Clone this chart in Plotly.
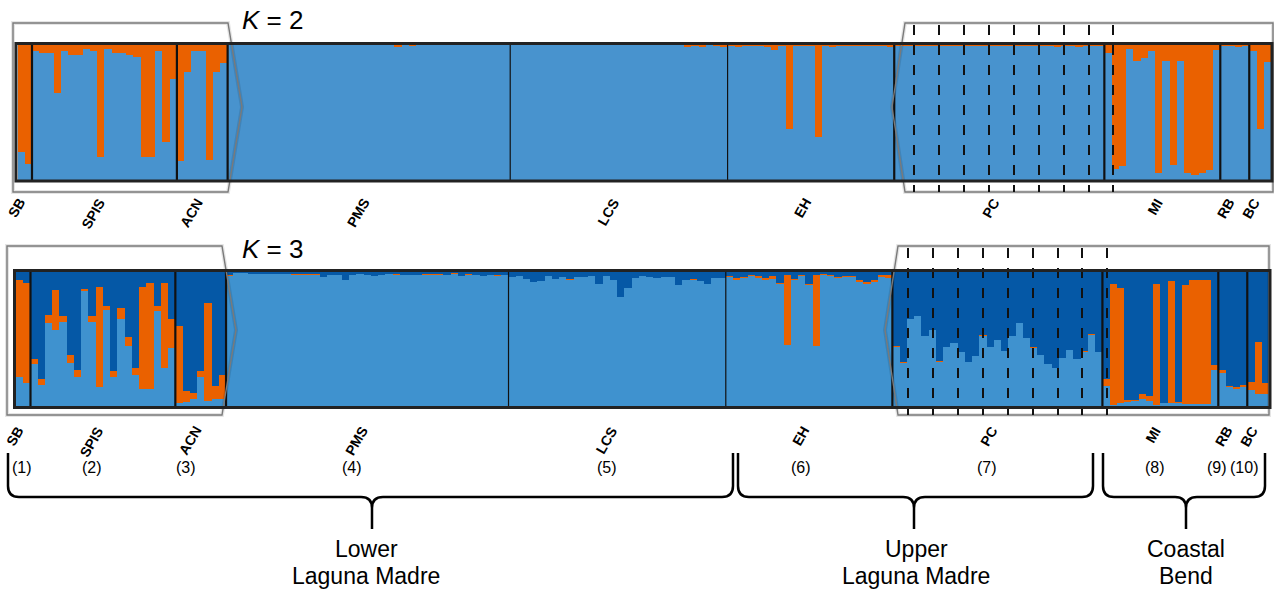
import plotly.graph_objects as go

W, H = 1274, 591

# ---------------- data ----------------
POPS = ["SB", "SPIS", "ACN", "PMS", "LCS", "EH", "PC", "MI", "RB", "BC"]
POP_NUMS = ["(1)", "(2)", "(3)", "(4)", "(5)", "(6)", "(7)", "(8)", "(9)", "(10)"]
POP_SIZES = [2, 20, 7, 39, 30, 23, 29, 16, 4, 3]
REGIONS = [["Lower", "Laguna Madre"], ["Upper", "Laguna Madre"], ["Coastal", "Bend"]]

# K = 2 : membership in cluster 1 (blue); remainder is cluster 2 (orange)
K2_SB = [0.21, 0.12]
K2_SPIS = [0.95, 0.94, 0.94, 0.64, 0.955, 0.925, 0.925, 0.97, 0.95, 0.17,
           0.97, 0.94, 0.94, 0.925, 0.91, 0.17, 0.17, 0.955, 0.28, 0.745]
K2_ACN = [0.14, 0.795, 0.95, 0.955, 0.15, 0.795, 0.865]
K2_PMS = [0.995, 0.997, 0.996, 0.995, 0.997, 0.996, 0.995, 0.996, 0.997, 0.995,
          0.996, 0.994, 0.995, 0.996, 0.997, 0.996, 0.995, 0.996, 0.997, 0.995,
          0.996, 0.997, 0.996, 0.985, 0.997, 0.99, 0.996, 0.995, 0.997, 0.996,
          0.995, 0.996, 0.997, 0.995, 0.996, 0.995, 0.997, 0.996, 0.995]
K2_LCS = [0.996, 0.997, 0.995, 0.996, 0.997, 0.995, 0.996, 0.997, 0.995, 0.996,
          0.997, 0.996, 0.995, 0.996, 0.997, 0.995, 0.996, 0.997, 0.996, 0.995,
          0.996, 0.997, 0.995, 0.996, 0.985, 0.99, 0.985, 0.995, 0.99, 0.985]
K2_EH = [0.99, 0.985, 0.99, 0.992, 0.988, 0.985, 0.96, 0.99, 0.375, 0.99,
         0.992, 0.99, 0.316, 0.99, 0.985, 0.988, 0.99, 0.99, 0.988, 0.988,
         0.988, 0.99, 0.985]
K2_PC = [0.99, 0.992, 0.99, 0.988, 0.99, 0.992, 0.99, 0.99, 0.988, 0.99,
         0.992, 0.99, 0.988, 0.99, 0.99, 0.992, 0.99, 0.99, 0.988, 0.99,
         0.992, 0.99, 0.985, 0.99, 0.988, 0.985, 0.99, 0.99, 0.992]
K2_MI = [0.94, 0.08, 0.10, 0.97, 0.88, 0.90, 0.955, 0.05, 0.88, 0.11,
         0.88, 0.05, 0.04, 0.055, 0.075, 0.96]
K2_RB = [0.99, 0.99, 0.985, 0.99]
K2_BC = [0.95, 0.375, 0.87]

# K = 3 : cluster 1 (light blue) and cluster 2 (orange); remainder is cluster 3 (dark blue)
K3_LB_SB = [0.22, 0.17]
K3_OR_SB = [0.72, 0.75]
K3_LB_SPIS = [0.31, 0.16, 0.62, 0.565, 0.63, 0.32, 0.22, 0.855, 0.63, 0.14,
              0.72, 0.22, 0.65, 0.45, 0.23, 0.13, 0.13, 0.71, 0.28, 0.43]
K3_OR_SPIS = [0.04, 0.04, 0.06, 0.30, 0.04, 0.06, 0.05, 0.02, 0.04, 0.75,
              0.03, 0.04, 0.08, 0.065, 0.05, 0.76, 0.79, 0.04, 0.635, 0.22]
K3_LB_ACN = [0.025, 0.03, 0.055, 0.22, 0.04, 0.055, 0.05]
K3_OR_ACN = [0.57, 0.08, 0.04, 0.04, 0.73, 0.095, 0.18]
K3_LB_PMS = [0.972, 0.993, 0.993, 0.985, 0.985, 0.985, 0.985, 0.985, 0.985, 0.98,
             0.979, 0.978, 0.98, 0.96, 0.98, 0.98, 0.943, 0.98, 0.988, 0.98,
             0.973, 0.98, 0.985, 0.98, 0.975, 0.98, 0.98, 0.98, 0.98, 0.98,
             0.98, 0.987, 0.973, 0.98, 0.98, 0.973, 0.98, 0.967, 0.98]
K3_OR_PMS = [0.008, 0, 0, 0, 0, 0, 0, 0, 0, 0.008,
             0.009, 0.009, 0.008, 0, 0, 0, 0, 0, 0, 0,
             0, 0, 0, 0.008, 0, 0, 0, 0.008, 0.008, 0.008,
             0, 0.005, 0, 0.008, 0, 0, 0, 0.008, 0]
K3_LB_LCS = [0.963, 0.968, 0.95, 0.923, 0.93, 0.968, 0.95, 0.963, 0.938, 0.963,
             0.963, 0.968, 0.914, 0.968, 0.943, 0.815, 0.88, 0.955, 0.968, 0.963,
             0.955, 0.963, 0.963, 0.9, 0.938, 0.942, 0.93, 0.914, 0.955, 0.955]
K3_OR_LCS = [0, 0, 0, 0, 0, 0, 0, 0, 0.012, 0,
             0, 0, 0, 0, 0, 0, 0, 0, 0, 0,
             0, 0, 0, 0, 0, 0.008, 0, 0, 0, 0]
K3_LB_EH = [0.963, 0.938, 0.958, 0.971, 0.958, 0.941, 0.95, 0.908, 0.455, 0.938,
            0.971, 0.901, 0.445, 0.976, 0.971, 0.958, 0.965, 0.965, 0.926, 0.908,
            0.926, 0.965, 0.958]
K3_OR_EH = [0.007, 0.02, 0.007, 0.007, 0.012, 0.017, 0.02, 0.007, 0.52, 0.007,
            0.007, 0.007, 0.53, 0.007, 0.007, 0.007, 0.005, 0.005, 0.012, 0.017,
            0.012, 0.01, 0.017]
K3_LB_PC = [0.44, 0.32, 0.65, 0.67, 0.52, 0.57, 0.33, 0.44, 0.47, 0.40,
            0.33, 0.37, 0.52, 0.44, 0.49, 0.41, 0.52, 0.62, 0.51, 0.43,
            0.38, 0.31, 0.28, 0.36, 0.42, 0.35, 0.40, 0.53, 0.40]
K3_OR_PC = [0.005, 0.007, 0, 0, 0.005, 0, 0.007, 0, 0, 0,
            0, 0.005, 0.007, 0, 0, 0, 0, 0, 0, 0.007,
            0, 0, 0, 0, 0, 0, 0.007, 0.01, 0.005]
K3_LB_MI = [0.15, 0.01, 0.02, 0.03, 0.035, 0.05, 0.035, 0.01, 0.02, 0.025,
            0.025, 0.012, 0.012, 0.012, 0.012, 0.27]
K3_OR_MI = [0.05, 0.90, 0.86, 0.015, 0.01, 0.04, 0.04, 0.90, 0.005, 0.905,
            0.005, 0.89, 0.925, 0.93, 0.93, 0.035]
K3_LB_RB = [0.25, 0.14, 0.13, 0.14]
K3_OR_RB = [0.015, 0.012, 0.012, 0.015]
K3_LB_BC = [0.12, 0.09, 0.09]
K3_OR_BC = [0.06, 0.39, 0.085]

K2_C1 = K2_SB + K2_SPIS + K2_ACN + K2_PMS + K2_LCS + K2_EH + K2_PC + K2_MI + K2_RB + K2_BC
K2_C2 = [1 - v for v in K2_C1]
K3_C1 = (K3_LB_SB + K3_LB_SPIS + K3_LB_ACN + K3_LB_PMS + K3_LB_LCS + K3_LB_EH
         + K3_LB_PC + K3_LB_MI + K3_LB_RB + K3_LB_BC)
K3_C2 = (K3_OR_SB + K3_OR_SPIS + K3_OR_ACN + K3_OR_PMS + K3_OR_LCS + K3_OR_EH
         + K3_OR_PC + K3_OR_MI + K3_OR_RB + K3_OR_BC)
K3_C3 = [max(0.0, 1 - a - b) for a, b in zip(K3_C1, K3_C2)]

N = sum(POP_SIZES)
IDX = list(range(N))

# ---------------- styles / layout ----------------
BLUE2 = "#4893CE"
ORANGE = "#EA6100"
LBLUE3 = "#3F92CF"
DBLUE3 = "#0558A6"
FONT = "Liberation Sans, Arial, Helvetica, sans-serif"

fig = go.Figure()


def add_bar(y, color, xa, ya):
    fig.add_trace(go.Bar(x=IDX, y=y, width=1.0, xaxis=xa, yaxis=ya,
                         marker=dict(color=color, line=dict(width=0)),
                         showlegend=False, hoverinfo="skip"))


add_bar(K2_C1, BLUE2, "x", "y")
add_bar(K2_C2, ORANGE, "x", "y")
add_bar(K3_C1, LBLUE3, "x2", "y2")
add_bar(K3_C2, ORANGE, "x2", "y2")
add_bar(K3_C3, DBLUE3, "x2", "y2")
# invisible trace for pixel overlay axis
fig.add_trace(go.Scatter(x=[0], y=[0], xaxis="x3", yaxis="y3", mode="markers",
                         marker=dict(opacity=0), showlegend=False, hoverinfo="skip"))


def px(v):
    return v / W


def py(v):
    return 1 - v / H


hidden = dict(visible=False, showgrid=False, zeroline=False, fixedrange=True)
fig.update_layout(
    width=W, height=H, margin=dict(l=0, r=0, t=0, b=0),
    paper_bgcolor="white", plot_bgcolor="rgba(0,0,0,0)",
    barmode="stack", bargap=0, showlegend=False,
    xaxis=dict(domain=[px(17.5), px(1271)], range=[-0.5, N - 0.5], anchor="y", **hidden),
    yaxis=dict(domain=[py(180), py(44.5)], range=[0, 1], anchor="x", **hidden),
    xaxis2=dict(domain=[px(16), px(1269)], range=[-0.5, N - 0.5], anchor="y2", **hidden),
    yaxis2=dict(domain=[py(406), py(272)], range=[0, 1], anchor="x2", **hidden),
    xaxis3=dict(domain=[0, 1], range=[0, W], anchor="y3", **hidden),
    yaxis3=dict(domain=[0, 1], range=[H, 0], anchor="x3", **hidden),
)

shapes = []
annos = []

# population boundaries
starts = []
c = 0
for s in POP_SIZES:
    starts.append(c)
    c += s
THIN = {"LCS", "EH"}
for xa, ya in (("x", "y"), ("x2", "y2")):
    for name, st in zip(POPS[1:], starts[1:]):
        shapes.append(dict(type="line", xref=xa, yref=ya + " domain", x0=st - 0.5, x1=st - 0.5,
                           y0=0, y1=1, line=dict(color="#111", width=1.2 if name in THIN else 2.2),
                           layer="above"))

# zoom boxes (shadow + outline), pixel coordinates
BOXES = [
    "M 13,23 L 228,23 L 242,107 L 228,192 L 13,192 Z",
    "M 1273,23 L 905,23 L 892,107 L 905,192 L 1273,192 Z",
    "M 7,246 L 222,246 L 236,330 L 222,415 L 7,415 Z",
    "M 1269,246 L 898,246 L 885,330 L 898,415 L 1269,415 Z",
]
for p in BOXES:
    shapes.append(dict(type="path", xref="x3", yref="y3", path=p,
                       line=dict(color="rgba(0,0,0,0.10)", width=4), layer="below"))
    shapes.append(dict(type="path", xref="x3", yref="y3", path=p,
                       line=dict(color="#7a7a7a", width=1.4), layer="above"))

# dashed sub-site lines in PC boxes
DASH_K2 = [914, 939, 964, 989, 1014, 1039, 1064, 1089, 1113]
DASH_K3 = [908, 933, 958, 983, 1008, 1033, 1058, 1082, 1107]
for xs, y0, y1 in ((DASH_K2, 25, 192), (DASH_K3, 248, 415)):
    for xv in xs:
        shapes.append(dict(type="line", xref="x3", yref="y3", x0=xv, x1=xv, y0=y0, y1=y1,
                           line=dict(color="#111", width=2, dash="10px,10px"), layer="above"))

# panel frames
for (x0, y0, x1, y1) in ((16, 43.5, 1272, 181), (14.5, 270.5, 1270, 407.5)):
    shapes.append(dict(type="rect", xref="x3", yref="y3", x0=x0, y0=y0, x1=x1, y1=y1,
                       line=dict(color="#222", width=3), layer="above"))

# titles
for txt, yy in (("<i>K</i> = 2", 20), ("<i>K</i> = 3", 249)):
    annos.append(dict(text=txt, xref="x3", yref="y3", x=272, y=yy, showarrow=False,
                      font=dict(family=FONT, size=26, color="black")))

# population labels
for xa, ytop in (("x", 193), ("x2", 421)):
    for name, st, sz in zip(POPS, starts, POP_SIZES):
        annos.append(dict(text="<b>%s</b>" % name, xref=xa, yref="y3", x=st + sz / 2 - 0.5,
                          y=ytop, xanchor="right", yanchor="top", xshift=6, textangle=-60,
                          showarrow=False, font=dict(family=FONT, size=14, color="black")))

# population numbers
NUM_X = [22, 92, 186, 352, 607, 801, 987, 1155, 1217, 1244]
for t, xv in zip(POP_NUMS, NUM_X):
    annos.append(dict(text=t, xref="x3", yref="y3", x=xv, y=467, showarrow=False,
                      font=dict(family=FONT, size=16, color="black")))


# region braces
def brace(x0, x1, xc, ytop=453, yh=497, ystem=529, r=11):
    return (f"M {x0},{ytop} L {x0},{yh - r} Q {x0},{yh} {x0 + r},{yh} L {xc - r},{yh} "
            f"Q {xc},{yh} {xc},{yh + r} L {xc},{ystem} "
            f"M {xc},{yh + r} Q {xc},{yh} {xc + r},{yh} L {x1 - r},{yh} "
            f"Q {x1},{yh} {x1},{yh - r} L {x1},{ytop}")


BRACES = [(8, 733, 372), (738, 1093, 914), (1103, 1265, 1186)]
TEXT_X = [366, 916, 1186]
for (x0, x1, xc), lines, tx in zip(BRACES, REGIONS, TEXT_X):
    shapes.append(dict(type="path", xref="x3", yref="y3", path=brace(x0, x1, xc),
                       line=dict(color="black", width=2.5), layer="above"))
    for ln, yy in zip(lines, (549, 576)):
        annos.append(dict(text=ln, xref="x3", yref="y3", x=tx, y=yy, showarrow=False,
                          font=dict(family=FONT, size=23, color="black")))

fig.update_layout(shapes=shapes, annotations=annos)
fig.write_html("out.html", config={"displayModeBar": False, "staticPlot": True},
               post_script="document.body.style.margin='0';document.body.style.overflow='hidden';")
